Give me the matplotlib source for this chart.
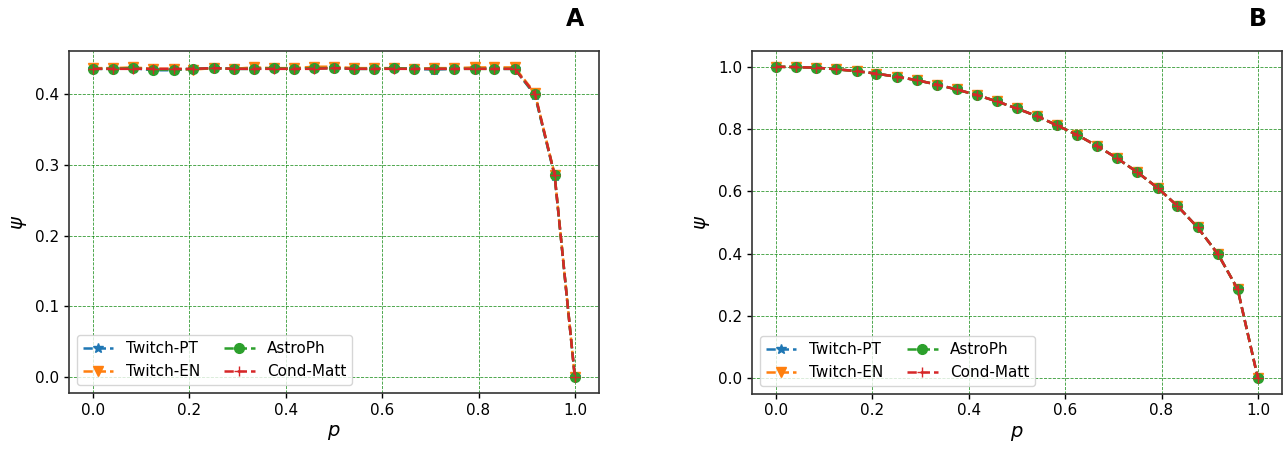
import numpy as np
import matplotlib
matplotlib.use("Agg")
import matplotlib.pyplot as plt

# p values (25 points, step 1/24)
p = [0.0, 0.042, 0.083, 0.125, 0.167, 0.208, 0.25, 0.292, 0.333, 0.375,
     0.417, 0.458, 0.5, 0.542, 0.583, 0.625, 0.667, 0.708, 0.75, 0.792,
     0.833, 0.875, 0.917, 0.958, 1.0]

# panel A
psi_a_pt = [0.435, 0.435, 0.436, 0.433, 0.433, 0.435, 0.436, 0.435, 0.435, 0.436,
            0.435, 0.436, 0.436, 0.435, 0.435, 0.436, 0.435, 0.434, 0.435, 0.436,
            0.435, 0.435, 0.398, 0.284, 0.0]
psi_a_en = [0.436, 0.436, 0.437, 0.435, 0.435, 0.434, 0.436, 0.435, 0.437, 0.436,
            0.436, 0.438, 0.438, 0.436, 0.436, 0.436, 0.435, 0.436, 0.436, 0.437,
            0.437, 0.437, 0.401, 0.286, 0.0]
psi_a_astro = [0.435, 0.435, 0.436, 0.434, 0.434, 0.435, 0.436, 0.435, 0.435, 0.436,
               0.435, 0.436, 0.436, 0.435, 0.435, 0.436, 0.435, 0.435, 0.435, 0.435,
               0.435, 0.435, 0.399, 0.285, 0.0]
psi_a_cond = [0.435, 0.435, 0.435, 0.435, 0.435, 0.435, 0.436, 0.435, 0.435, 0.435,
              0.435, 0.435, 0.436, 0.435, 0.435, 0.435, 0.435, 0.435, 0.435, 0.435,
              0.435, 0.435, 0.400, 0.285, 0.0]

# panel B
psi_b_pt = [1.0, 0.999, 0.997, 0.992, 0.986, 0.978, 0.968, 0.957, 0.943, 0.927,
            0.909, 0.889, 0.866, 0.841, 0.812, 0.781, 0.745, 0.706, 0.661, 0.611,
            0.553, 0.484, 0.399, 0.286, 0.0]
psi_b_en = psi_b_pt[:]
psi_b_astro = psi_b_pt[:]
psi_b_cond = psi_b_pt[:]

labels = ["Twitch-PT", "Twitch-EN", "AstroPh", "Cond-Matt"]
markers = ["*", "v", "o", "+"]
colors = ["#1f77b4", "#ff7f0e", "#2ca02c", "#d62728"]

fig = plt.figure(figsize=(12.87, 4.49), dpi=100)
ax1 = fig.add_axes([0.0536, 0.125, 0.4118, 0.761])
ax2 = fig.add_axes([0.5843, 0.123, 0.4118, 0.763])

panels = [
    (ax1, [psi_a_pt, psi_a_en, psi_a_astro, psi_a_cond], "A"),
    (ax2, [psi_b_pt, psi_b_en, psi_b_astro, psi_b_cond], "B"),
]

for ax, series, tag in panels:
    for ys, lab, m, c in zip(series, labels, markers, colors):
        ax.plot(p, ys, linestyle="--", marker=m, color=c, label=lab,
                markersize=7, linewidth=1.8)
    ax.grid(True, color="green", linestyle="--", linewidth=0.6, alpha=0.8)
    ax.set_axisbelow(True)
    ax.set_xlabel("$p$", fontsize=14)
    ax.set_ylabel(r"$\psi$", fontsize=14)
    ax.tick_params(labelsize=11, width=1.0)
    for s in ax.spines.values():
        s.set_edgecolor("#333333")
        s.set_linewidth(1.2)
    ax.set_xticks([0.0, 0.2, 0.4, 0.6, 0.8, 1.0])
    ax.legend(loc="lower left", ncol=2, fontsize=11, handlelength=2.0,
              columnspacing=1.6)
    ax.text(1.0, 1.094, tag, transform=ax.get_xaxis_transform(), ha="center",
            va="center", fontsize=17, fontweight="bold")

ax1.set_yticks([0.0, 0.1, 0.2, 0.3, 0.4])
ax2.set_yticks([0.0, 0.2, 0.4, 0.6, 0.8, 1.0])

fig.savefig("out.png", dpi=100)
